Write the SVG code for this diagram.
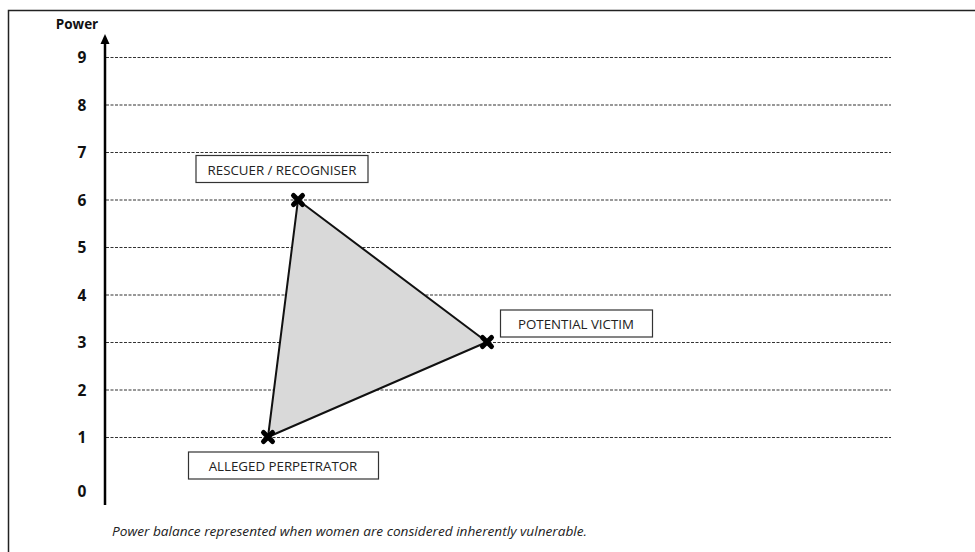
<svg xmlns="http://www.w3.org/2000/svg" width="975" height="552" viewBox="0 0 975 552">
<defs>
<style>
.grid{stroke:#333;stroke-width:1.2;stroke-dasharray:3 1.5;fill:none}
.num{font-family:"Open Sans","Liberation Sans",sans-serif;font-weight:bold;font-size:15.5px;fill:#111;text-anchor:middle}
.lbl{font-family:"Open Sans","Liberation Sans",sans-serif;font-size:13.3px;fill:#222;text-anchor:middle}
.box{fill:#fff;stroke:#333;stroke-width:1.2}
.cross{stroke:#000;stroke-width:5;stroke-linecap:round}
</style>
</defs>
<rect width="975" height="552" fill="#fff"/>
<path d="M8.5,552 V10.5 H975" fill="none" stroke="#222" stroke-width="1.5"/>
<text x="77" y="29" font-family="'Open Sans','Liberation Sans',sans-serif" font-weight="bold" font-size="13.5" fill="#111" text-anchor="middle">Power</text>
<g id="gridlines">
<line class="grid" x1="106" y1="57.5" x2="891" y2="57.5"/>
<line class="grid" x1="106" y1="105" x2="891" y2="105"/>
<line class="grid" x1="106" y1="152.5" x2="891" y2="152.5"/>
<line class="grid" x1="106" y1="200" x2="891" y2="200"/>
<line class="grid" x1="106" y1="247.5" x2="891" y2="247.5"/>
<line class="grid" x1="106" y1="295" x2="891" y2="295"/>
<line class="grid" x1="106" y1="342.5" x2="891" y2="342.5"/>
<line class="grid" x1="106" y1="390" x2="891" y2="390"/>
<line class="grid" x1="106" y1="437.5" x2="891" y2="437.5"/>
</g>
<g id="ticks">
<text class="num" x="82" y="63">9</text>
<text class="num" x="82" y="110.5">8</text>
<text class="num" x="82" y="158">7</text>
<text class="num" x="82" y="205.5">6</text>
<text class="num" x="82" y="253">5</text>
<text class="num" x="82" y="300.5">4</text>
<text class="num" x="82" y="348">3</text>
<text class="num" x="82" y="395.5">2</text>
<text class="num" x="82" y="443">1</text>
<text class="num" x="82" y="497">0</text>
</g>
<g id="axis">
<line x1="105" y1="505" x2="105" y2="42" stroke="#000" stroke-width="2.5"/>
<polygon points="105,34 100.5,44 109.5,44" fill="#000"/>
</g>
<g id="connectors">
<polygon points="298,200 487,342 268,437" fill="#d9d9d9" stroke="#111" stroke-width="2" stroke-linejoin="round"/>
</g>
<g id="rescuer">
<path class="cross" d="M293.5,195.5 L302.5,204.5 M302.5,195.5 L293.5,204.5"/>
<rect class="box" x="196" y="155.5" width="172" height="27"/>
<text class="lbl" x="282" y="174.5">RESCUER / RECOGNISER</text>
</g>
<g id="victim">
<path class="cross" d="M482.5,337.5 L491.5,346.5 M491.5,337.5 L482.5,346.5"/>
<rect class="box" x="500.5" y="310" width="152" height="27"/>
<text class="lbl" x="576" y="329">POTENTIAL VICTIM</text>
</g>
<g id="perpetrator">
<path class="cross" d="M263.5,432.5 L272.5,441.5 M272.5,432.5 L263.5,441.5"/>
<rect class="box" x="188.5" y="452" width="190" height="27"/>
<text class="lbl" x="283" y="471">ALLEGED PERPETRATOR</text>
</g>
<text x="112" y="535.5" font-family="'Open Sans','Liberation Sans',sans-serif" font-style="italic" font-size="13.3" fill="#222" textLength="475" lengthAdjust="spacingAndGlyphs">Power balance represented when women are considered inherently vulnerable.</text>
</svg>
